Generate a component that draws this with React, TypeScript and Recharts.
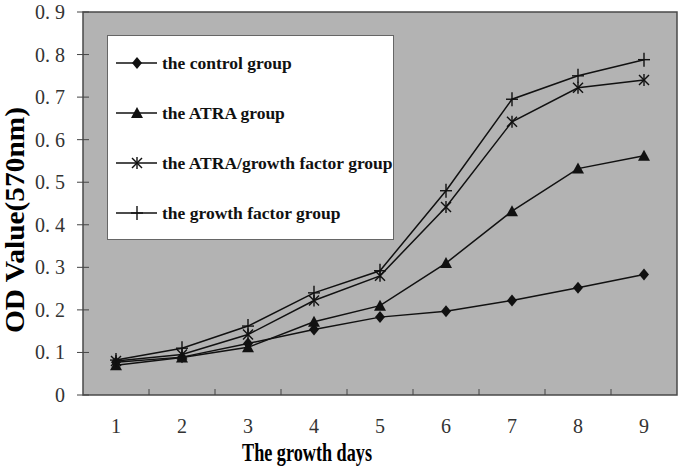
import { LineChart, Line, XAxis, YAxis, ReferenceArea, Label } from "recharts";

const days = [1, 2, 3, 4, 5, 6, 7, 8, 9];
const controlGroup = [0.077, 0.089, 0.121, 0.154, 0.183, 0.197, 0.222, 0.252, 0.283];
const atraGroup = [0.07, 0.088, 0.112, 0.172, 0.21, 0.31, 0.432, 0.532, 0.562];
const atraGrowthGroup = [0.08, 0.095, 0.142, 0.222, 0.28, 0.442, 0.642, 0.722, 0.74];
const growthGroup = [0.082, 0.11, 0.162, 0.24, 0.292, 0.48, 0.695, 0.75, 0.788];
const yTicks = [0, 0.1, 0.2, 0.3, 0.4, 0.5, 0.6, 0.7, 0.8, 0.9];

const data = days.map((d, i) => ({
  day: d,
  control: controlGroup[i],
  atra: atraGroup[i],
  atraGrowth: atraGrowthGroup[i],
  growth: growthGroup[i],
}));

const W = 685;
const H = 469;
const PLOT_LEFT = 83;
const PLOT_RIGHT = 677;
const PLOT_BOTTOM = 395;
const HALF_BAND = (PLOT_RIGHT - PLOT_LEFT) / days.length / 2;
const INK = "#111";
const SERIF = "'Liberation Serif', 'DejaVu Serif', serif";

function Marker({ kind, cx, cy }: { kind: string; cx: number; cy: number }) {
  if (kind === "diamond")
    return <polygon points={`${cx},${cy - 6} ${cx + 5},${cy} ${cx},${cy + 6} ${cx - 5},${cy}`} fill={INK} />;
  if (kind === "triangle")
    return <polygon points={`${cx},${cy - 6} ${cx + 6},${cy + 5} ${cx - 6},${cy + 5}`} fill={INK} />;
  if (kind === "star")
    return (
      <g stroke={INK} strokeWidth={1.4}>
        <line x1={cx - 5} y1={cy - 5} x2={cx + 5} y2={cy + 5} />
        <line x1={cx - 5} y1={cy + 5} x2={cx + 5} y2={cy - 5} />
        <line x1={cx} y1={cy - 6} x2={cx} y2={cy + 6} />
      </g>
    );
  return (
    <g stroke={INK} strokeWidth={1.4}>
      <line x1={cx} y1={cy - 7} x2={cx} y2={cy + 7} />
      <line x1={cx - 6} y1={cy} x2={cx + 6} y2={cy} />
    </g>
  );
}

const series = [
  { key: "control", name: "the control group", kind: "diamond" },
  { key: "atra", name: "the ATRA group", kind: "triangle" },
  { key: "atraGrowth", name: "the ATRA/growth factor group", kind: "star" },
  { key: "growth", name: "the growth factor group", kind: "plus" },
];

function YTick({ y, payload }: any) {
  const v = payload.value as number;
  const label = v === 0 ? "0" : v.toFixed(1).replace(".", ". ");
  return (
    <g>
      <line x1={PLOT_LEFT - 6} x2={PLOT_LEFT + 6} y1={y} y2={y} stroke="#444" />
      <text x={65} y={y + 7} textAnchor="end" fontFamily={SERIF} fontSize={20} fill="#333">
        {label}
      </text>
    </g>
  );
}

function XTick({ x, payload }: any) {
  const last = payload.value === days[days.length - 1];
  return (
    <g>
      {!last && (
        <line x1={x + HALF_BAND} x2={x + HALF_BAND} y1={PLOT_BOTTOM} y2={PLOT_BOTTOM - 6} stroke="#444" />
      )}
      <text x={x} y={433} textAnchor="middle" fontFamily={SERIF} fontSize={20} fill="#333">
        {payload.value}
      </text>
    </g>
  );
}

function LegendBox() {
  return (
    <div
      style={{
        position: "absolute",
        left: 107,
        top: 35,
        width: 287,
        height: 205,
        background: "#fff",
        border: "1px solid #666",
        boxSizing: "border-box",
        paddingTop: 2,
      }}
    >
      {series.map((s) => (
        <div key={s.key} style={{ display: "flex", alignItems: "center", height: 50 }}>
          <svg width={54} height={20} style={{ flexShrink: 0 }}>
            <line x1={8} x2={49} y1={10} y2={10} stroke={INK} strokeWidth={1.5} />
            <Marker kind={s.kind} cx={29} cy={10} />
          </svg>
          <span
            style={{
              fontFamily: SERIF,
              fontWeight: "bold",
              fontSize: 17.5,
              color: "#111",
              whiteSpace: "nowrap",
            }}
          >
            {s.name}
          </span>
        </div>
      ))}
    </div>
  );
}

export default function App() {
  return (
    <div style={{ position: "absolute", left: 0, top: 0, width: W, height: H, background: "#fff" }}>
      <LineChart width={W} height={H} data={data} margin={{ top: 12, right: W - PLOT_RIGHT, left: 0, bottom: 0 }}>
        <ReferenceArea
          x1={0.5}
          x2={9.5}
          y1={0}
          y2={0.9}
          fill="#b3b3b3"
          fillOpacity={1}
          stroke="#4a4a4a"
          strokeWidth={1.5}
          ifOverflow="visible"
        />
        <XAxis
          dataKey="day"
          type="number"
          domain={[0.5, 9.5]}
          ticks={days}
          height={H - PLOT_BOTTOM}
          axisLine={false}
          tickLine={false}
          tick={<XTick />}
          interval={0}
        >
          <Label
            content={() => (
              <text
                x={307}
                y={461}
                textAnchor="middle"
                fontFamily={SERIF}
                fontWeight="bold"
                fontSize={25}
                textLength={130}
                lengthAdjust="spacingAndGlyphs"
                fill="#000"
              >
                The growth days
              </text>
            )}
          />
        </XAxis>
        <YAxis
          domain={[0, 0.9]}
          ticks={yTicks}
          width={PLOT_LEFT}
          axisLine={false}
          tickLine={false}
          tick={<YTick />}
          interval={0}
        >
          <Label
            content={() => (
              <text
                x={0}
                y={0}
                transform="translate(24,220) rotate(-90)"
                textAnchor="middle"
                fontFamily={SERIF}
                fontWeight="bold"
                fontSize={27}
                textLength={226}
                lengthAdjust="spacingAndGlyphs"
                fill="#000"
              >
                OD Value(570nm)
              </text>
            )}
          />
        </YAxis>
        {series.map((s) => (
          <Line
            key={s.key}
            dataKey={s.key}
            name={s.name}
            stroke={INK}
            strokeWidth={1.5}
            isAnimationActive={false}
            dot={(p: any) => <Marker key={`${s.key}-${p.index}`} kind={s.kind} cx={p.cx} cy={p.cy} />}
            activeDot={false}
          />
        ))}
      </LineChart>
      <LegendBox />
    </div>
  );
}
